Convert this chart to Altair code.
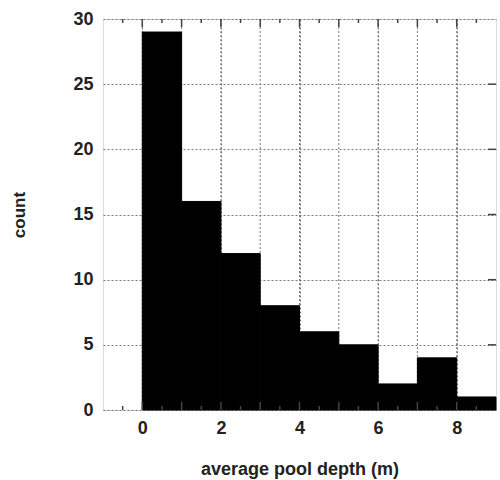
import altair as alt
import pandas as pd

bin_start = [0, 1, 2, 3, 4, 5, 6, 7, 8]
bin_end = [1, 2, 3, 4, 5, 6, 7, 8, 9]
counts = [29, 16, 12, 8, 6, 5, 2, 4, 1]

x_labels = [0, 2, 4, 6, 8]
x_major = [0, 1, 2, 3, 4, 5, 6, 7, 8]
x_minor = [-0.5, 0.5, 1.5, 2.5, 3.5, 4.5, 5.5, 6.5, 7.5, 8.5]
y_labels = [0, 5, 10, 15, 20, 25, 30]
y_major_right = [5, 10, 15, 20, 25]

W, H = 393, 391

bars = pd.DataFrame({"start": bin_start, "end": bin_end, "count": counts})
xmaj = pd.DataFrame({"v": x_major})
xmin = pd.DataFrame({"v": x_minor})
yr = pd.DataFrame({"v": y_major_right})

xs = alt.Scale(domain=[-1, 9], nice=False, zero=False)
ys = alt.Scale(domain=[0, 30], nice=False)

font = "Liberation Sans"

xaxis = alt.Axis(values=x_labels, grid=True, gridDash=[2, 2], gridColor="#777",
                 gridWidth=1, ticks=False, domain=False, labelFontSize=18,
                 labelFontWeight="bold", labelFont=font, labelColor="#222",
                 labelPadding=9, title="average pool depth (m)", titleFontSize=18,
                 titleFont=font, titleFontWeight="bold", titleColor="#222",
                 titlePadding=23)
yaxis = alt.Axis(values=y_labels, grid=True, gridDash=[2, 2], gridColor="#777",
                 gridWidth=1, ticks=False, domain=False, labelFontSize=18,
                 labelFontWeight="bold", labelFont=font, labelColor="#222",
                 labelPadding=10, title="count", titleFontSize=17, titleFont=font,
                 titleFontWeight="bold", titleColor="#222", titlePadding=44)

# vertical grid at every integer
vgrid = alt.Chart(xmaj).mark_rule(color="#777", strokeDash=[2, 2], strokeWidth=1).encode(
    x=alt.X("v:Q", scale=xs, axis=xaxis), y=alt.value(0), y2=alt.value(H))

rects = alt.Chart(bars).mark_rect(color="black", stroke="black", strokeWidth=1).encode(
    x=alt.X("start:Q", scale=xs),
    x2="end:Q",
    y=alt.Y("count:Q", scale=ys, axis=yaxis),
    y2=alt.datum(0),
)

tick_col = "#444"
bot_major = alt.Chart(xmaj).mark_rule(color=tick_col, strokeWidth=1.5).encode(
    x=alt.X("v:Q", scale=xs), y=alt.value(H), y2=alt.value(H - 8))
bot_minor = alt.Chart(xmin).mark_rule(color=tick_col, strokeWidth=1.5).encode(
    x=alt.X("v:Q", scale=xs), y=alt.value(H), y2=alt.value(H - 4))
top_major = alt.Chart(xmaj).mark_rule(color=tick_col, strokeWidth=1.5).encode(
    x=alt.X("v:Q", scale=xs), y=alt.value(0), y2=alt.value(8))
top_minor = alt.Chart(xmin).mark_rule(color=tick_col, strokeWidth=1.5).encode(
    x=alt.X("v:Q", scale=xs), y=alt.value(0), y2=alt.value(4))
right_major = alt.Chart(yr).mark_rule(color=tick_col, strokeWidth=1.5).encode(
    y=alt.Y("v:Q", scale=ys), x=alt.value(W), x2=alt.value(W - 8))

chart = alt.layer(vgrid, rects, bot_major, bot_minor, top_major, top_minor, right_major).properties(
    width=W, height=H,
    autosize=alt.AutoSizeParams(type="none"),
    padding={"left": 103, "top": 19, "right": 4, "bottom": 70},
).configure_view(stroke="#444", strokeWidth=1.5).configure(background="white")

chart.save("out.html", embed_options={"renderer": "svg", "actions": False})
